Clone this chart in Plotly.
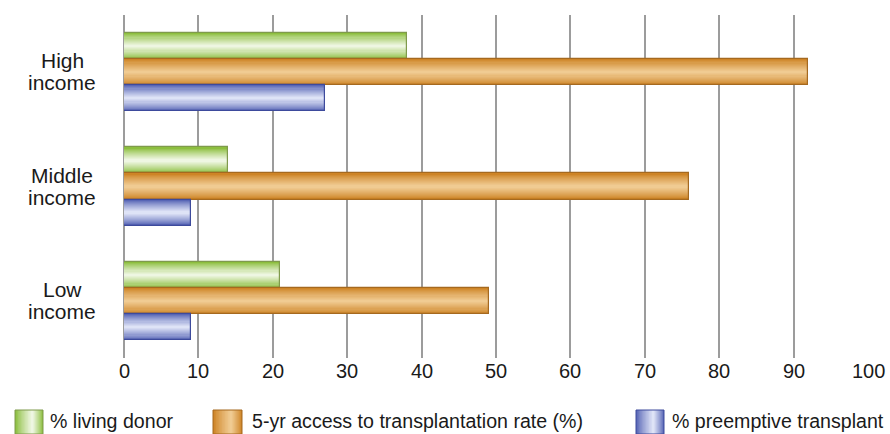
import plotly.graph_objects as go

# ---------------- data ----------------
categories = ["High<br>income", "Middle<br>income", "Low<br>income"]
series_names = ["% living donor", "5-yr access to transplantation rate (%)", "% preemptive transplant"]
living_donor = [38, 14, 21]
access_rate = [92, 76, 49]
preemptive = [27, 9, 9]
x_ticks = [0, 10, 20, 30, 40, 50, 60, 70, 80, 90, 100]

# ---------------- styles ----------------
W, H = 890, 434
ML, MR, MT, MB = 124, 22, 15, 76
PW, PH = W - ML - MR, H - MT - MB
FONT = "Liberation Sans, Arial, Helvetica, sans-serif"

styles = [
    dict(edge=(140, 190, 62), center=(238, 246, 226), line="#7f9a4c"),
    dict(edge=(206, 132, 38), center=(240, 203, 146), line="#a5691f"),
    dict(edge=(88, 102, 182), center=(222, 227, 246), line="#3d4a9c"),
]
series_vals = [living_donor, access_rate, preemptive]

BAR_H = 0.2275           # bar thickness in category units
OFFSETS = [-1, 0, 1]     # green above, orange middle, blue below
K = 12                   # gradient layers


def mix(a, b, t):
    return "rgb(%d,%d,%d)" % tuple(round(a[i] + (b[i] - a[i]) * t) for i in range(3))


pos = list(range(len(categories)))
fig = go.Figure()

for s, vals in enumerate(series_vals):
    st = styles[s]
    ys = [p + OFFSETS[s] * BAR_H for p in pos]
    for k in range(K):
        t = (k / (K - 1)) ** 0.85
        fig.add_trace(go.Bar(
            x=vals, y=ys, orientation="h", base=0,
            width=BAR_H * (1 - k / K),
            marker=dict(color=mix(st["edge"], st["center"], t), line=dict(width=0)),
            showlegend=False, hoverinfo="skip" if k else None,
            name=series_names[s],
        ))
    # outline on top
    fig.add_trace(go.Bar(
        x=vals, y=ys, orientation="h", base=0, width=BAR_H,
        marker=dict(color="rgba(0,0,0,0)", line=dict(width=1.2, color=st["line"])),
        showlegend=False, name=series_names[s],
    ))


def px_x(px):
    return (px - ML) / PW


def px_y(py):
    return (MT + PH - py) / PH


shapes = []
annotations = []

# category labels (two lines each, tight leading like the reference)
for p, lab in zip(pos, categories):
    lines = lab.split("<br>")
    shifts = [11.5, -10.5]
    for ln, sh in zip(lines, shifts):
        annotations.append(dict(
            x=px_x(62), xref="paper", y=p, yref="y", text=ln, showarrow=False,
            xanchor="center", yanchor="middle", yshift=sh,
            font=dict(family=FONT, size=21, color="#1a1a1a"),
        ))

# x tick labels placed via the axis scale (data x, paper y)
for v in x_ticks:
    annotations.append(dict(
        x=v, xref="x", y=px_y(371), yref="paper", text=str(v), showarrow=False,
        xanchor="center", yanchor="middle",
        font=dict(family=FONT, size=20, color="#1a1a1a"),
    ))

# legend (custom, with gradient swatches)
legend_sw = [(15, 43), (213, 242), (636, 664)]
legend_tx = [48, 250, 670]
SW_TOP, SW_BOT = 410, 434
for s in range(3):
    st = styles[s]
    x0, x1 = legend_sw[s]
    cx = x0 + 0.62 * (x1 - x0)
    for k in range(K):
        t = (k / (K - 1)) ** 0.85
        f = 1 - k / K
        shapes.append(dict(
            type="rect", xref="paper", yref="paper",
            x0=px_x(cx - (cx - x0) * f), x1=px_x(cx + (x1 - cx) * f),
            y0=px_y(SW_BOT), y1=px_y(SW_TOP),
            fillcolor=mix(st["edge"], st["center"], t), line=dict(width=0), layer="above",
        ))
    shapes.append(dict(
        type="rect", xref="paper", yref="paper",
        x0=px_x(x0), x1=px_x(x1), y0=px_y(SW_BOT), y1=px_y(SW_TOP),
        fillcolor="rgba(0,0,0,0)", line=dict(width=1, color=st["line"]), layer="above",
    ))
    annotations.append(dict(
        x=px_x(legend_tx[s]), xref="paper", y=px_y(421), yref="paper",
        text=series_names[s], showarrow=False, xanchor="left", yanchor="middle",
        font=dict(family=FONT, size=19.6, color="#1a1a1a"),
    ))

fig.update_layout(
    width=W, height=H, autosize=False,
    margin=dict(l=ML, r=MR, t=MT, b=MB, pad=0),
    paper_bgcolor="white", plot_bgcolor="white",
    barmode="overlay", bargap=0,
    showlegend=False,
    font=dict(family=FONT, size=20, color="#1a1a1a"),
    xaxis=dict(
        range=[0, 100], tickvals=x_ticks, showticklabels=False,
        showgrid=True, gridcolor="#9c9c9c", gridwidth=1.5,
        zeroline=True, zerolinecolor="#9c9c9c", zerolinewidth=1.5,
        showline=False, ticks="",
        fixedrange=True,
    ),
    yaxis=dict(
        range=[len(categories) - 0.5, -0.5], tickvals=pos,
        showticklabels=False, showgrid=False, zeroline=False, showline=False, ticks="",
        fixedrange=True,
    ),
    shapes=shapes,
    annotations=annotations,
)

fig.write_html("out.html")
